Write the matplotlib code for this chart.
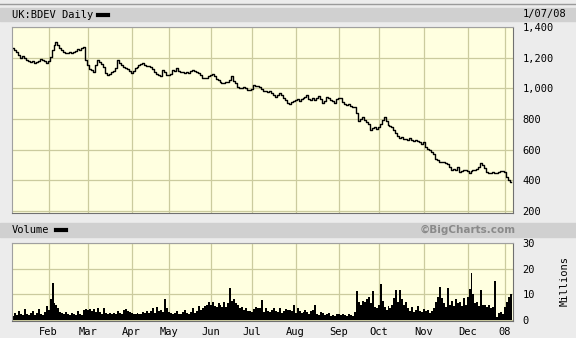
import numpy as np
import pandas as pd
import matplotlib
matplotlib.use("Agg")
import matplotlib.pyplot as plt
from matplotlib.patches import Rectangle

# daily closes, UK:BDEV, 8 Jan 2007 - 7 Jan 2008 (pence)
close = [
    1265, 1250, 1238, 1215, 1200, 1208, 1195, 1185, 1178, 1172,
    1176, 1165, 1170, 1180, 1190, 1184, 1178, 1168, 1176, 1205,
    1250, 1285, 1300, 1284, 1262, 1250, 1240, 1232, 1228, 1240,
    1230, 1236, 1246, 1256, 1250, 1264, 1272, 1185, 1150, 1128,
    1118, 1105, 1150, 1185, 1170, 1158, 1140, 1102, 1090, 1094,
    1104, 1116, 1130, 1185, 1165, 1150, 1140, 1132, 1124, 1112,
    1100, 1116, 1130, 1142, 1150, 1160, 1166, 1150, 1145, 1148,
    1140, 1125, 1106, 1095, 1088, 1080, 1120, 1105, 1090, 1086,
    1092, 1120, 1115, 1130, 1112, 1104, 1108, 1100, 1106, 1102,
    1110, 1120, 1112, 1104, 1100, 1085, 1068, 1065, 1070, 1080,
    1087, 1093, 1080, 1060, 1052, 1040, 1035, 1038, 1042, 1040,
    1055, 1080, 1050, 1035, 1010, 1005, 1002, 1008, 1000, 992,
    988, 994, 1025, 1018, 1012, 1010, 998, 985, 980, 976,
    982, 970, 955, 945, 958, 970, 955, 940, 925, 905,
    900, 910, 920, 925, 928, 918, 930, 940, 945, 955,
    930, 925, 935, 922, 940, 950, 930, 905, 920, 945,
    935, 925, 915, 905, 930, 940, 935, 910, 895, 890,
    895, 885, 878, 878, 840, 790, 800, 813, 795, 780,
    765, 730, 740, 745, 738, 750, 770, 793, 810, 785,
    760, 755, 748, 730, 708, 690, 675, 680, 668, 672,
    665, 675, 660, 655, 662, 658, 648, 640, 650, 615,
    605, 600, 585, 575, 540, 530, 520, 522, 518, 512,
    505, 490, 470, 475, 468, 487, 455, 462, 468, 465,
    460, 448, 460, 470, 468, 472, 490, 513, 498, 480,
    455, 450, 448, 452, 446, 450, 455, 458, 460, 455,
    420, 405, 390,
]

# daily volume, millions of shares
volume = [
    1.5, 2.8, 2.0, 3.5, 2.2, 1.8, 4.2, 2.5, 2.0, 2.9,
    3.4, 2.1, 2.6, 4.3, 2.4, 2.0, 3.0, 5.6, 4.0, 8.0,
    14.3, 6.5, 5.8, 4.5, 3.2, 2.6, 2.2, 3.0, 2.4, 2.0,
    2.7, 2.2, 1.8, 3.5, 2.5, 1.9, 3.8, 4.2, 4.0, 4.4,
    3.6, 4.1, 3.0, 4.6, 3.2, 2.4, 4.5, 2.6, 2.3, 2.6,
    2.2, 2.8, 2.4, 3.4, 2.8, 2.2, 3.8, 4.2, 3.5, 3.0,
    2.6, 2.4, 2.2, 2.8, 2.2, 2.5, 3.0, 2.6, 3.5, 2.8,
    3.4, 4.5, 2.6, 5.0, 3.5, 4.0, 3.0, 8.0, 4.5, 3.0,
    2.6, 2.4, 2.8, 3.5, 2.5, 2.2, 3.2, 3.8, 2.6, 2.4,
    3.0, 4.5, 2.8, 3.5, 5.5, 4.0, 4.5, 5.5, 6.0, 7.0,
    6.0, 7.2, 5.5, 5.0, 6.5, 5.8, 5.2, 7.0, 5.2, 6.5,
    12.3, 7.5, 8.0, 6.8, 6.0, 4.8, 5.2, 3.8, 4.5, 3.6,
    3.5, 3.0, 4.2, 5.0, 4.6, 4.5, 7.8, 3.2, 4.6, 3.5,
    3.0, 4.0, 4.6, 3.4, 3.0, 4.8, 2.8, 3.6, 4.2, 3.8,
    4.0, 3.5, 5.8, 2.8, 4.5, 3.6, 2.6, 3.2, 4.0, 3.0,
    2.5, 3.4, 4.0, 5.8, 2.4, 2.0, 3.0, 2.6, 1.8, 2.2,
    2.6, 1.6, 2.0, 1.5, 2.5, 2.2, 1.8, 2.4, 2.0, 1.6,
    2.2, 1.8, 1.5, 3.0, 11.4, 7.0, 6.0, 7.5, 7.0, 8.0,
    9.0, 6.5, 11.2, 5.0, 4.5, 6.0, 13.9, 7.5, 5.0, 4.0,
    5.5, 4.5, 6.0, 8.5, 11.5, 7.0, 11.8, 8.0, 6.0, 7.0,
    4.5, 3.5, 5.0, 3.0, 4.0, 5.5, 3.5, 3.0, 4.2, 3.5,
    4.0, 2.8, 3.6, 4.5, 7.0, 9.0, 13.0, 8.5, 6.5, 5.0,
    12.3, 6.0, 7.5, 5.5, 8.0, 6.5, 7.0, 5.5, 8.5, 6.0,
    9.0, 12.0, 18.3, 10.0, 6.5, 7.0, 5.5, 11.7, 6.0, 5.8,
    5.0, 5.8, 4.5, 5.2, 15.0, 1.3, 2.8, 3.0, 2.5, 5.0,
    7.0, 9.0, 10.0,
]

holidays = ["2007-04-06", "2007-04-09", "2007-05-07", "2007-05-28",
            "2007-08-27", "2007-12-25", "2007-12-26", "2008-01-01"]
month_labels = ["Feb", "Mar", "Apr", "May", "Jun", "Jul",
                "Aug", "Sep", "Oct", "Nov", "Dec", "08"]
price_ticks = [200, 400, 600, 800, 1000, 1200, 1400]
vol_ticks = [0, 10, 20, 30]

days = pd.bdate_range("2007-01-08", "2008-01-07")
days = days[~days.isin(pd.to_datetime(holidays))]
x = np.arange(len(days))
month_key = days.year * 12 + days.month
month_pos = [i for i in range(1, len(days)) if month_key[i] != month_key[i - 1]]

W, H = 576, 338
BG = "#ececec"
BAR = "#d0d0d0"
PAPER = "#ffffe0"
GRID = "#cbcb9e"
FONT = "DejaVu Sans Mono"


def fx(px):
    return px / W


def fy(py):
    return 1 - py / H


fig = plt.figure(figsize=(W / 100, H / 100), dpi=100, facecolor=BG)

# header strips
for top, bot in [(8, 21), (223, 237)]:
    fig.patches.append(Rectangle((0, fy(bot)), 1, fy(top) - fy(bot),
                                 transform=fig.transFigure, color=BAR, zorder=0))
fig.add_artist(plt.Line2D([0, 1], [fy(4), fy(4)], color="#9a9a9a", lw=1))

ax = fig.add_axes([fx(12), fy(213), fx(501), fy(27) - fy(213)])
axv = fig.add_axes([fx(12), fy(321), fx(501), fy(243) - fy(321)])

for a in (ax, axv):
    a.set_facecolor(PAPER)
    a.set_xlim(-0.5, len(days))
    a.set_xticks(month_pos)
    a.grid(True, color=GRID, lw=0.9)
    a.set_axisbelow(True)
    a.yaxis.tick_right()
    a.tick_params(axis="both", length=0, labelsize=7.5, pad=7)
    for s in a.spines.values():
        s.set_color("#a0a0a0")
    a.spines["right"].set_color("#707070")
    a.spines["bottom"].set_color("#707070")

ax.plot(x, close, color="black", lw=1.0, drawstyle="steps-mid")
ax.set_ylim(187, 1400)
ax.set_yticks(price_ticks)
ax.set_yticklabels([f"{v:,}" for v in price_ticks], family=FONT)
ax.set_xticklabels([])

axv.bar(x, volume, width=1.0, color="black", lw=0)
axv.set_ylim(-0.4, 30)
axv.set_yticks(vol_ticks)
axv.set_yticklabels([str(v) for v in vol_ticks], family=FONT)
axv.set_xticklabels(month_labels, family=FONT)
axv.tick_params(axis="x", pad=4)

# header texts
fig.text(fx(12), fy(14.5), "UK:BDEV Daily", family=FONT, fontsize=7.5, va="center")
fig.add_artist(plt.Line2D([fx(98), fx(108)], [fy(14.5)] * 2, color="black", lw=3))
fig.text(fx(566), fy(14.5), "1/07/08", family=FONT, fontsize=7.5, va="center", ha="right")
fig.text(fx(12), fy(230), "Volume", family=FONT, fontsize=7.5, va="center")
fig.add_artist(plt.Line2D([fx(56), fx(66)], [fy(230)] * 2, color="black", lw=3))
fig.text(fx(468), fy(230), "\u00a9BigCharts.com", family="DejaVu Sans", fontsize=7.5,
         weight="bold", color="#8a8a8a", va="center", ha="center")
fig.text(fx(565), fy(281), "Millions", family=FONT, fontsize=7.5, rotation=90,
         va="center", ha="center")

fig.savefig("out.png", dpi=100, facecolor=BG)
